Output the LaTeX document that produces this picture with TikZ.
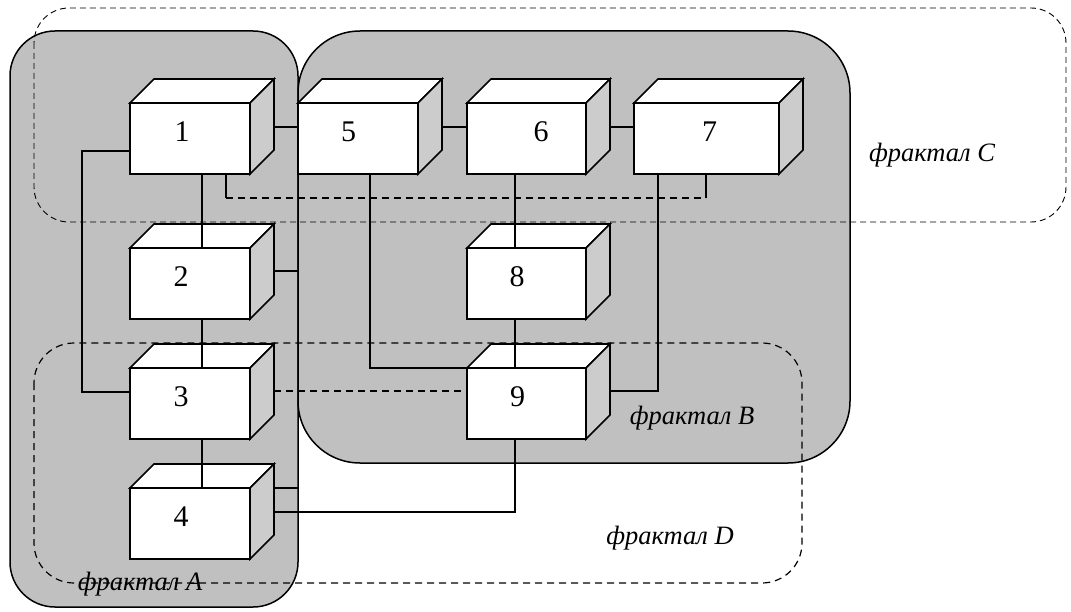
\documentclass[tikz,border=0pt]{standalone}
\usepackage{fontspec}
\setmainfont{Liberation Serif}
\usetikzlibrary{calc}
\definecolor{regiongray}{RGB}{192,192,192}
\definecolor{sidegray}{RGB}{204,204,204}
\tikzset{
 region/.style={fill=regiongray, draw=black, line width=1.5pt},
 fractalD/.style={draw=black, line width=1.2pt, dash pattern=on 7pt off 5pt},
 fractalC/.style={draw=black, line width=0.9pt, dash pattern=on 6pt off 4pt},
 front/.style={draw=black, fill=white, line width=1.6pt, rectangle, inner sep=0pt, outer sep=0pt, minimum height=71pt},
 face/.style={draw=black, line width=1.6pt, line join=miter},
 num/.style={font=\fontsize{30}{30}\selectfont, inner sep=0pt},
 flabel/.style={font=\fontsize{26.5}{26.5}\selectfont\itshape, inner sep=0pt},
 link/.style={draw=black, line width=1.5pt},
 dlink/.style={draw=black, line width=1.5pt, dash pattern=on 7pt off 5pt},
}
\newcommand{\cubebox}[6]{%
 \node[front, minimum width=#4pt, anchor=north west] (#1) at (#2,#3) {};
 \draw[face, fill=white] (#1.north west) -- ++(24,-24) -- ++(#4,0) -- (#1.north east) -- cycle;
 \draw[face, fill=sidegray] (#1.north east) -- ++(24,-24) -- ++(0,71) -- (#1.south east) -- cycle;
 \node[num] (#1l) at ($(#1.center)+(#6,-7)$) {#5};
}
\begin{document}
\begin{tikzpicture}[x=1pt,y=-1pt]
\useasboundingbox (0,0) rectangle (1071,612);
% regions
\path[fill=regiongray, rounded corners=45pt] (10,31) rectangle (298,607);
\path[fill=regiongray, rounded corners=62pt] (298,31) rectangle (850,463);
\draw[region, fill=none, rounded corners=45pt] (10,31) rectangle (298,607);
\draw[region, fill=none, rounded corners=62pt] (298,31) rectangle (850,463);
\draw[fractalC, rounded corners=35pt] (34,8) rectangle (1066,222);
\draw[fractalD, rounded corners=40pt] (34,343) rectangle (802,583);
% boxes
\cubebox{b1}{130}{103}{120}{1}{-8}
\cubebox{b2}{130}{248}{120}{2}{-9}
\cubebox{b3}{130}{368}{120}{3}{-9}
\cubebox{b4}{130}{488}{120}{4}{-9}
\cubebox{b5}{298}{103}{120}{5}{-9.5}
\cubebox{b6}{467}{103}{119}{6}{14.5}
\cubebox{b7}{634}{103}{145}{7}{3}
\cubebox{b8}{467}{248}{119}{8}{-9.5}
\cubebox{b9}{467}{368}{119}{9}{-9}
% connectors
\draw[link] ($(b1.north east)+(24,24)$) -- ($(b5.north west)+(0,24)$);
\draw[link] ($(b5.north east)+(24,24)$) -- ($(b6.north west)+(0,24)$);
\draw[link] ($(b6.north east)+(24,24)$) -- ($(b7.north west)+(0,24)$);
\draw[link] ($(b1.north west)+(0,48)$) -- ++(-48,0) |- ($(b3.north west)+(0,24)$);
\draw[link] ($(b1.south west)+(72,0)$) -- ($(b2.north west)+(72,0)$);
\draw[link] ($(b2.south west)+(72,0)$) -- ($(b3.north west)+(72,0)$);
\draw[link] ($(b3.south west)+(72,0)$) -- ($(b4.north west)+(72,0)$);
\draw[link] ($(b2.north east)+(24,23)$) -- ++(24,0) coordinate (e2);
\draw[link] ($(b4.north east)+(24,0)$) -- ++(24,0) coordinate (e4);
\draw[link] ($(b4.north east)+(24,24)$) -| ($(b9.south west)+(48,0)$);
\draw[link] ($(b5.south west)+(72,0)$) |- (b9.north west);
\draw[link] ($(b6.south west)+(48,0)$) -- ($(b8.north west)+(48,0)$);
\draw[link] ($(b8.south west)+(48,0)$) -- ($(b9.north west)+(48,0)$);
\draw[link] ($(b7.south west)+(24,0)$) |- ($(b9.north east)+(24,23)$);
\draw[dlink] ($(b3.north east)+(24,23)$) -- ($(b9.north west)+(0,23)$);
\coordinate (c1) at ($(b1.south west)+(96,24)$);
\coordinate (c7) at ($(b7.south west)+(72,24)$);
\draw[link] ($(b1.south west)+(96,0)$) -- (c1);
\draw[dlink] (c1) -- (c7);
\draw[link] (c7) -- ($(b7.south west)+(72,0)$);
% labels
\node[flabel] (lA) at (140,584) {фрактал A};
\node[flabel] (lB) at (692,418) {фрактал B};
\node[flabel] (lC) at (932,155) {фрактал C};
\node[flabel] (lD) at (670,538) {фрактал D};
\end{tikzpicture}
\end{document}
